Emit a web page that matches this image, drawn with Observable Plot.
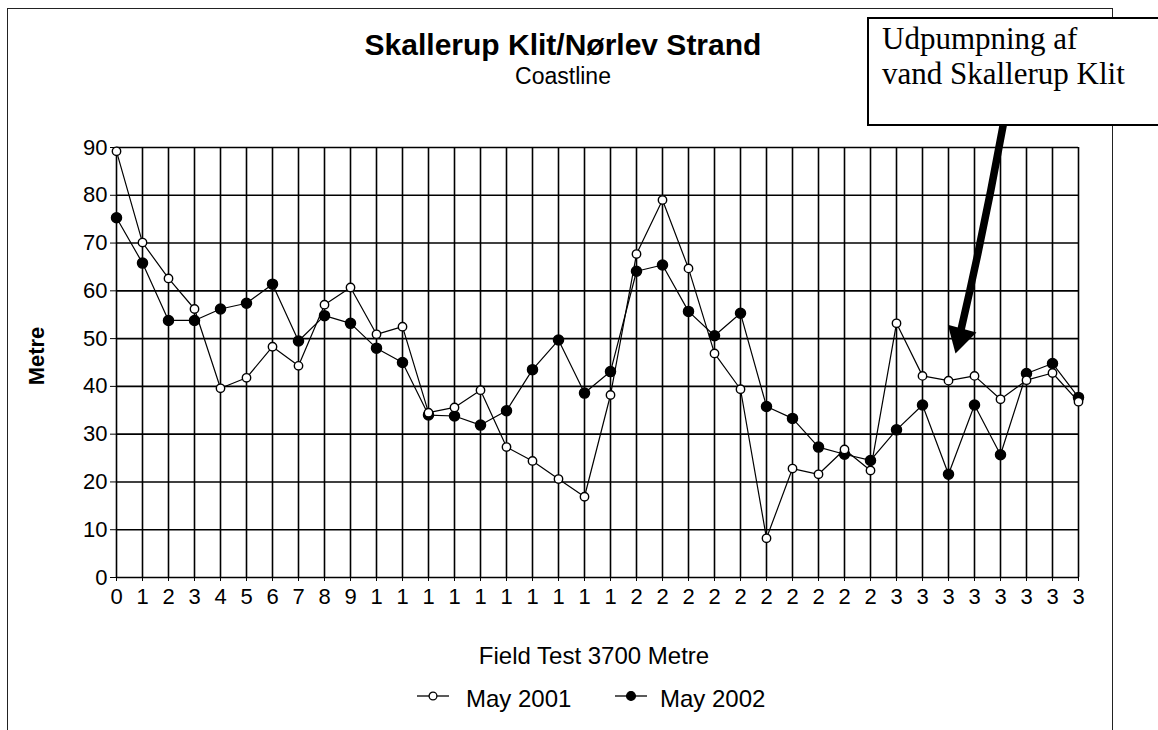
<!DOCTYPE html>
<html>
<head>
<meta charset="utf-8">
<script src="https://cdn.jsdelivr.net/npm/d3@7"></script>
<script src="https://cdn.jsdelivr.net/npm/@observablehq/plot@0.6"></script>
<style>
  html, body { margin: 0; padding: 0; background: #fff; }
  body { width: 1158px; height: 730px; overflow: hidden; position: relative;
         font-family: "Liberation Sans", Arial, sans-serif; color: #000; }
  #frame { position: absolute; left: 7px; top: 8px; width: 1106px; height: 760px;
           border: 1.5px solid #222; box-sizing: border-box; }
  #chart { position: absolute; left: 0; top: 0; }
  #chart svg text { font-size: 22px !important; font-family: "Liberation Sans", Arial, sans-serif !important; fill: #000; }
  .abs { position: absolute; white-space: nowrap; }
  #title { left: 0; width: 1126px; text-align: center; top: 30px; font-size: 30px; line-height: 30px; font-weight: bold; }
  #subtitle { left: 0; width: 1126px; text-align: center; top: 65px; font-size: 23px; line-height: 23px; }
  #xlabel { left: 0; width: 1188px; text-align: center; top: 644px; font-size: 24px; line-height: 24px; }
  #ylabel { left: 37px; top: 356px; font-size: 22px; line-height: 22px; font-weight: bold;
            transform: translate(-50%, -50%) rotate(-90deg); }
  .leg { top: 687px; font-size: 24px; line-height: 24px; }
  #note { position: absolute; left: 867px; top: 17px; width: 320px; height: 109px;
          border: 2px solid #000; background: #fff; box-sizing: border-box;
          font-family: "Liberation Serif", "Times New Roman", serif; font-size: 31px; line-height: 35px;
          padding: 2px 0 0 13px; z-index: 2; }
</style>
</head>
<body>
<div id="frame"></div>
<div id="chart"></div>
<div id="title" class="abs"></div>
<div id="subtitle" class="abs"></div>
<div id="xlabel" class="abs"></div>
<div id="ylabel" class="abs"></div>
<div id="note"></div>
<div id="legend"></div>
<script>
// ---- data ----
const stations = [0, 100, 200, 300, 400, 500, 600, 700, 800, 900,
  1000, 1100, 1200, 1300, 1400, 1500, 1600, 1700, 1800, 1900,
  2000, 2100, 2200, 2300, 2400, 2500, 2600, 2700, 2800, 2900,
  3000, 3100, 3200, 3300, 3400, 3500, 3600, 3700];
const tickLabels = ["0", "1", "2", "3", "4", "5", "6", "7", "8", "9",
  "1", "1", "1", "1", "1", "1", "1", "1", "1", "1",
  "2", "2", "2", "2", "2", "2", "2", "2", "2", "2",
  "3", "3", "3", "3", "3", "3", "3", "3"];
const yTicks = [0, 10, 20, 30, 40, 50, 60, 70, 80, 90];
const may2001 = [89.2, 70.1, 62.6, 56.2, 39.6, 41.8, 48.3, 44.3, 57.1, 60.7,
  50.9, 52.5, 34.5, 35.6, 39.2, 27.3, 24.4, 20.6, 16.9, 38.2,
  67.7, 79.0, 64.7, 46.9, 39.4, 8.2, 22.8, 21.6, 26.8, 22.4,
  53.2, 42.2, 41.2, 42.2, 37.3, 41.3, 42.8, 36.8];
const may2002 = [75.3, 65.8, 53.8, 53.8, 56.2, 57.4, 61.4, 49.5, 54.8, 53.2,
  48.0, 45.0, 34.0, 33.8, 31.9, 34.9, 43.5, 49.7, 38.6, 43.1,
  64.1, 65.4, 55.7, 50.6, 55.3, 35.8, 33.3, 27.3, 25.8, 24.5,
  30.9, 36.1, 21.6, 36.1, 25.7, 42.7, 44.8, 37.7];
const seriesNames = ["May 2001", "May 2002"];
const annotationText = ["Udpumpning af", "vand Skallerup Klit"];
const annotationArrow = [{x1: 3410, y1: 94.6, x2: 3227, y2: 46.9}];
const titleText = "Skallerup Klit/Nørlev Strand";
const subtitleText = "Coastline";
const xLabelText = "Field Test 3700 Metre";
const yLabelText = "Metre";

// ---- build ----
const rows2001 = stations.map((s, i) => ({station: s, value: may2001[i]}));
const rows2002 = stations.map((s, i) => ({station: s, value: may2002[i]}));
const labelOf = new Map(stations.map((s, i) => [s, tickLabels[i]]));

const chart = Plot.plot({
  width: 1158,
  height: 730,
  marginLeft: 116,
  marginRight: 80,
  marginTop: 147,
  marginBottom: 153,
  style: {fontSize: "22px", fontFamily: "'Liberation Sans', Arial, sans-serif", color: "#000", background: "transparent"},
  x: {domain: [0, 3700], ticks: stations, tickFormat: d => labelOf.get(d), tickSize: 4, tickPadding: 7, label: null},
  y: {domain: [0, 90], ticks: yTicks, tickSize: 6, tickPadding: 3, label: null},
  marks: [
    Plot.ruleX(stations, {stroke: "#000", strokeWidth: 1.6}),
    Plot.ruleY(yTicks, {stroke: "#000", strokeWidth: 1.6}),
    Plot.line(rows2002, {x: "station", y: "value", stroke: "#000", strokeWidth: 1.2}),
    Plot.line(rows2001, {x: "station", y: "value", stroke: "#000", strokeWidth: 1.2}),
    Plot.dot(rows2002, {x: "station", y: "value", r: 5, fill: "#000", stroke: "#000"}),
    Plot.dot(rows2001, {x: "station", y: "value", r: 4.2, fill: "#fff", stroke: "#000", strokeWidth: 1.4}),
    // annotation arrow: thick shaft + filled triangular head
    Plot.arrow(annotationArrow, {x1: "x1", y1: "y1", x2: "x2", y2: "y2", stroke: "#000",
      strokeWidth: 7.5, headLength: 0, insetEnd: 19, bend: 1.5}),
    Plot.dot(annotationArrow, {x: "x2", y: "y2", symbol: "triangle", r: 11, rotate: 195,
      fill: "#000", stroke: "none", dx: 4.4, dy: -16.5})
  ]
});
document.getElementById("chart").appendChild(chart);

document.getElementById("title").textContent = titleText;
document.getElementById("subtitle").textContent = subtitleText;
document.getElementById("xlabel").textContent = xLabelText;
document.getElementById("ylabel").textContent = yLabelText;
document.getElementById("note").innerHTML = annotationText.join("<br>");

// legend
const legend = document.getElementById("legend");
const legendItems = [
  {name: seriesNames[0], symLeft: 416, textLeft: 466, fill: "#fff"},
  {name: seriesNames[1], symLeft: 614, textLeft: 660, fill: "#000"}
];
legendItems.forEach(item => {
  const sym = document.createElementNS("http://www.w3.org/2000/svg", "svg");
  sym.setAttribute("width", 34); sym.setAttribute("height", 14);
  sym.style.position = "absolute"; sym.style.left = item.symLeft + "px"; sym.style.top = "689px";
  sym.innerHTML = `<line x1="1" y1="7" x2="33" y2="7" stroke="#000" stroke-width="1.3"/>` +
    `<circle cx="17" cy="7" r="${item.fill === "#000" ? 4.4 : 3.9}" fill="${item.fill}" stroke="#000" stroke-width="1.3"/>`;
  legend.appendChild(sym);
  const t = document.createElement("div");
  t.className = "abs leg"; t.style.left = item.textLeft + "px"; t.textContent = item.name;
  legend.appendChild(t);
});
</script>
</body>
</html>
